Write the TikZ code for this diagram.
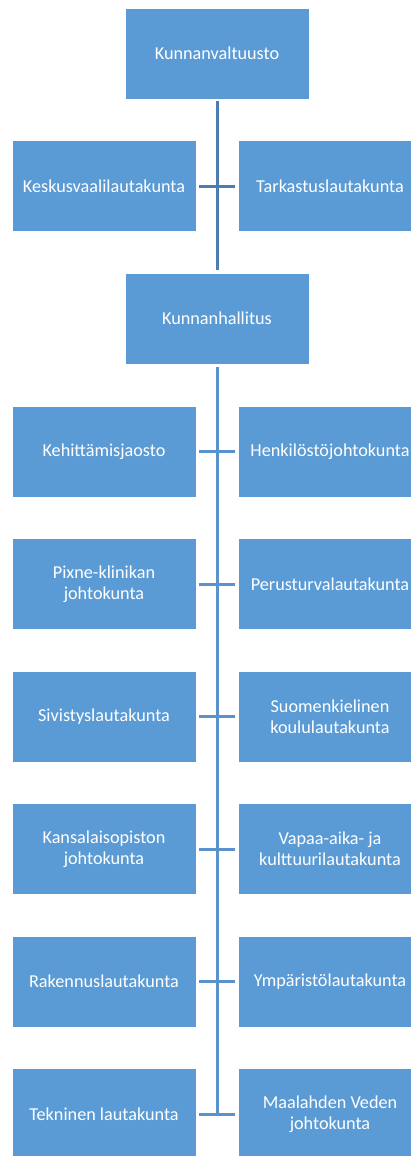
\documentclass[tikz,border=0pt]{standalone}
\usepackage{fontspec}
\setmainfont{Carlito}
\definecolor{boxblue}{HTML}{5B9BD5}
\definecolor{lineA}{HTML}{4A7EB1}
\definecolor{lineB}{HTML}{5A93CC}
\begin{document}
\begin{tikzpicture}[x=1pt,y=-1pt,
  orgbox/.style={rectangle, fill=boxblue, draw=white, line width=0.8pt,
    minimum width=184pt, minimum height=91pt, inner sep=2pt,
    text=white, align=center, font=\fontsize{18.2}{20.8}\selectfont},
  connA/.style={draw=lineA, line width=3pt},
  connB/.style={draw=lineB, line width=3pt}]
\useasboundingbox (0,0) rectangle (411,1156);
% top part
\node[orgbox] (kv) at (217,53.5) {Kunnanvaltuusto};
\node[orgbox] (kesk) at (104,186) {Keskusvaalilautakunta};
\node[orgbox] (tark) at (330,186) {Tarkastuslautakunta};
\node[orgbox] (kh) at (217,318.5) {Kunnanhallitus};
% rows
\node[orgbox] (l1) at (104,451.5) {Kehittämisjaosto};
\node[orgbox] (r1) at (330,451.5) {Henkilöstöjohtokunta};
\node[orgbox] (l2) at (104,584) {Pixne-klinikan\\johtokunta};
\node[orgbox] (r2) at (330,584) {Perusturvalautakunta};
\node[orgbox] (l3) at (104,716.5) {Sivistyslautakunta};
\node[orgbox] (r3) at (330,716.5) {Suomenkielinen\\koululautakunta};
\node[orgbox] (l4) at (104,849) {Kansalaisopiston\\johtokunta};
\node[orgbox] (r4) at (330,849) {Vapaa-aika- ja\\kulttuurilautakunta};
\node[orgbox] (l5) at (104,981.5) {Rakennuslautakunta};
\node[orgbox] (r5) at (330,981.5) {Ympäristölautakunta};
\node[orgbox] (l6) at (104,1114) {Tekninen lautakunta};
\node[orgbox] (r6) at (330,1114) {Maalahden Veden\\johtokunta};
% connectors
\draw[connA, shorten <=2pt, shorten >=3pt] (kv.south) -- (kh.north);
\draw[connA, shorten <=3pt, shorten >=3pt] (kesk.east) -- (tark.west);
\coordinate (bend) at (217,1114);
\draw[connB, shorten <=3pt] (kh.south) -- (bend);
\foreach \i in {1,...,6}{
  \draw[connB, shorten <=3pt, shorten >=3pt] (l\i.east) -- (r\i.west);
}
\end{tikzpicture}
\end{document}
